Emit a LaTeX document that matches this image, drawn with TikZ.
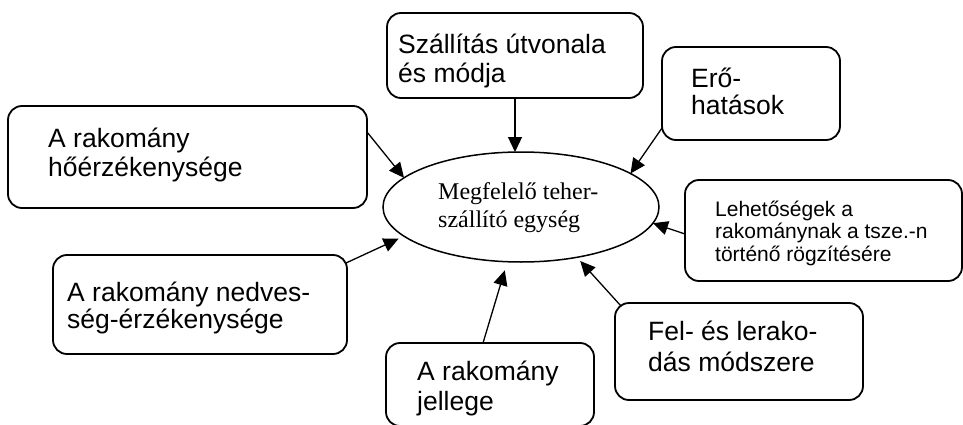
\documentclass[tikz,border=0pt]{standalone}
\usepackage{fontspec}
\setmainfont{Liberation Sans}
\newfontfamily\seriffont{Liberation Serif}
\usetikzlibrary{arrows.meta,calc,shapes.geometric}
\newcommand\mylines[3]{\vtop{\baselineskip=#1pt\hbox{#2}\hbox{#3}}}
\begin{document}
\begin{tikzpicture}[x=1pt,y=-1pt,
  box/.style={draw, line width=1.8pt, rounded corners=14pt, inner sep=0pt, outer sep=0pt},
  ell/.style={draw, ellipse, line width=1.5pt, minimum width=276pt, minimum height=110pt, inner sep=0pt, outer sep=0pt},
  txt/.style={inner sep=0pt, anchor=base west, font=\fontsize{26.5}{29}\selectfont},
  arr/.style={line width=1.3pt, -{Triangle[length=15pt,width=14pt]}}]
\path[use as bounding box, clip] (0,0) rectangle (963,425);
\fill[white] (0,0) rectangle (963,425);
% boxes and texts
\node[box, minimum width=256pt, minimum height=85pt] (b1) at (515,55.5) {};
\node[txt] (t1) at (398,54) {\mylines{29}{Szállítás útvonala}{és módja}};
\node[box, minimum width=178pt, minimum height=93pt] (b2) at (751,93.5) {};
\node[txt] (t2) at (691,88) {\mylines{27}{Erő-}{hatások}};
\node[box, minimum width=359pt, minimum height=102pt] (b3) at (187.5,157) {};
\node[txt] (t3) at (48,147) {\mylines{29}{A rakomány}{hőérzékenysége}};
\node[ell] (e) at (521,207) {};
\node[inner sep=0pt, anchor=base west, font=\seriffont\fontsize{24}{28}\selectfont] (te) at (438,199) {\mylines{28}{Megfelelő teher-}{szállító egység}};
\node[box, minimum width=277pt, minimum height=101pt] (b5) at (823.5,230.5) {};
\node[txt, font=\fontsize{21}{23}\selectfont] (t5) at (715,216) {\vtop{\baselineskip=22.5pt\hbox{Lehetőségek a}\hbox{rakománynak a tsze.-n}\hbox{történő rögzítésére}}};
\node[box, minimum width=294pt, minimum height=99pt] (b6) at (200,304.5) {};
\node[txt] (t6) at (67,301) {\mylines{27}{A rakomány nedves-}{ség-érzékenysége}};
\node[box, minimum width=208pt, minimum height=83pt] (b7) at (490,384.5) {};
\node[txt] (t7) at (417,380) {\mylines{30}{A rakomány}{jellege}};
\node[box, minimum width=248pt, minimum height=97pt] (b8) at (739,351.5) {};
\node[txt] (t8) at (648,340) {\mylines{31}{Fel- és lerako-}{dás módszere}};
% connectors
\draw[arr] (b1.south) -- (b1.south |- e.north);
\draw[arr] ($(b2.south west)+(0,-12)$) -- (e.17);
\draw[arr] ($(b3.north east)+(0,26)$) -- (e.166);
\draw[arr, shorten >=6pt] ($(b6.north east)+(-1,8)$) -- (e.194);
\draw[arr, shorten >=9pt] ($(b7.north west)+(97,0)$) -- (e.256);
\draw[arr, shorten >=5pt] ($(b8.north west)+(6,3)$) -- (e.318);
\draw[arr] ($(b5.north west)+(0,54)$) -- (e.353);
\end{tikzpicture}
\end{document}
